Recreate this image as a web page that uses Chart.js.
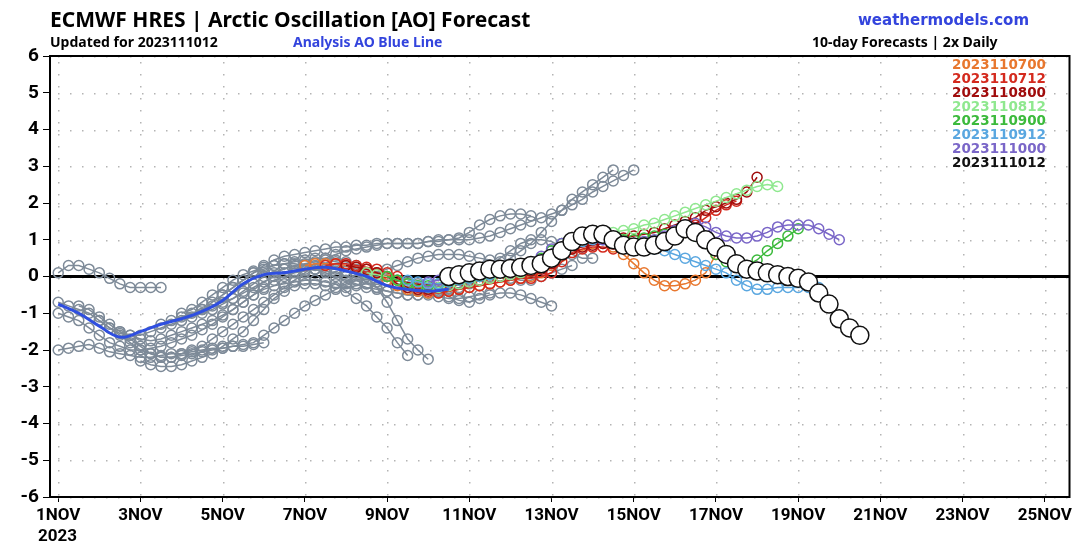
<!DOCTYPE html>
<html>
<head>
<meta charset="utf-8">
<script src="https://cdn.jsdelivr.net/npm/chart.js@4.4.0/dist/chart.umd.min.js"></script>
<style>
  body { margin: 0; background: #fff; }
  #wrap { position: relative; width: 1080px; height: 543px; }
  canvas { position: absolute; left: 0; top: 0; }
  .t { position: absolute; font-family: "Noto Sans", sans-serif; font-weight: bold; white-space: nowrap; }
  #legend { position: absolute; right: 34px; top: 57px; font-family: "DejaVu Sans", sans-serif; font-weight: bold; font-size: 13.5px; line-height: 14px; text-align: right; }
</style>
</head>
<body>
<div id="wrap">
  <canvas id="chart1" width="1080" height="543"></canvas>
  <div class="t" style="left:50px;top:5px;font-size:21px;">ECMWF HRES | Arctic Oscillation [AO] Forecast</div>
  <div class="t" style="left:50px;top:32px;font-size:14px;">Updated for 2023111012</div>
  <div class="t" style="left:293px;top:32px;font-size:14px;color:#3344dd;">Analysis AO Blue Line</div>
  <div class="t" style="left:858px;top:11px;font-size:15px;color:#3344dd;font-family:'DejaVu Sans';">weathermodels.com</div>
  <div class="t" style="left:812px;top:32px;font-size:14px;">10-day Forecasts | 2x Daily</div>
  <div id="legend"></div>
  <div class="t" style="left:38px;top:525px;font-size:17px;font-family:Roboto;">2023</div>
</div>
<script>
// x is in days: 1 = 1 Nov 00z, points every 6 hours
const step = 0.25;
const tickDays = [1, 3, 5, 7, 9, 11, 13, 15, 17, 19, 21, 23, 25];
const yTicks = [-6, -5, -4, -3, -2, -1, 0, 1, 2, 3, 4, 5, 6];

const analysisDays = [1, 1.5, 2, 2.5, 3, 3.5, 4, 4.5, 5, 5.5, 6, 6.5, 7, 7.5, 8, 8.5, 9, 9.5, 10, 10.5];
const analysisAO = [-0.75, -1.0, -1.35, -1.65, -1.5, -1.3, -1.15, -0.95, -0.65, -0.2, 0.05, 0.1, 0.2, 0.25, 0.15, 0.0, -0.25, -0.35, -0.4, -0.35];

const runNames = ['2023110700', '2023110712', '2023110800', '2023110812', '2023110900', '2023110912', '2023111000', '2023111012'];
const runColors = ['#e8772e', '#d42a1e', '#a00c0c', '#8fe88f', '#3cba3c', '#5aa7e0', '#7a66c8', '#111111'];
const runStarts = [7, 7.5, 8, 8.5, 9, 9.5, 10, 10.5];
const runValues = [
  [0.3,0.35,0.35,0.35,0.3,0.25,0.2,0.1,-0.1,-0.25,-0.35,-0.4,-0.45,-0.45,-0.4,-0.35,-0.3,-0.25,-0.2,-0.15,-0.1,-0.05,0.0,0.1,0.3,0.55,0.75,0.85,0.9,0.9,0.8,0.6,0.35,0.1,-0.1,-0.25,-0.25,-0.2,-0.1,0.1,0.6],
  [0.3,0.35,0.35,0.3,0.25,0.2,0.1,0.0,-0.2,-0.3,-0.4,-0.45,-0.4,-0.35,-0.3,-0.25,-0.2,-0.15,-0.1,-0.05,-0.05,0.0,0.1,0.4,0.65,0.75,0.8,0.8,0.75,0.8,0.9,0.85,0.9,1.0,1.1,1.2,1.4,1.6,1.8,1.95,2.05],
  [0.3,0.25,0.2,0.1,0.0,-0.2,-0.3,-0.35,-0.35,-0.3,-0.25,-0.2,-0.15,-0.1,-0.05,0.0,0.05,0.1,0.15,0.2,0.35,0.6,0.75,0.8,0.85,0.9,1.0,1.05,1.1,1.15,1.2,1.3,1.4,1.5,1.6,1.8,1.9,2.0,2.1,2.3,2.7],
  [0.1,0.05,0.0,-0.1,-0.2,-0.25,-0.3,-0.3,-0.25,-0.2,-0.15,-0.1,-0.05,0.0,0.05,0.1,0.2,0.3,0.5,0.7,0.9,1.0,1.1,1.15,1.2,1.25,1.3,1.4,1.45,1.55,1.65,1.75,1.85,1.95,2.05,2.15,2.25,2.35,2.45,2.5,2.45],
  [0.0,-0.1,-0.2,-0.25,-0.25,-0.2,-0.15,-0.1,-0.05,0.0,0.05,0.1,0.15,0.2,0.3,0.5,0.7,0.9,1.0,1.05,1.1,1.1,1.05,1.0,1.0,1.05,1.1,1.15,1.2,1.2,1.1,0.9,0.6,0.4,0.25,0.3,0.45,0.7,0.9,1.1,1.3],
  [-0.1,-0.15,-0.2,-0.2,-0.15,-0.1,-0.05,0.0,0.05,0.1,0.15,0.2,0.25,0.35,0.5,0.7,0.85,0.95,1.0,1.0,0.95,0.9,0.85,0.8,0.75,0.7,0.6,0.5,0.4,0.3,0.2,0.1,-0.1,-0.25,-0.35,-0.35,-0.3,-0.3,-0.3,-0.3,-0.3],
  [-0.15,-0.1,-0.05,0.0,0.05,0.1,0.15,0.2,0.25,0.3,0.4,0.55,0.75,0.9,1.0,1.05,1.05,1.0,0.95,0.9,0.9,0.95,1.0,1.1,1.25,1.4,1.45,1.35,1.2,1.1,1.05,1.05,1.1,1.2,1.35,1.4,1.4,1.4,1.3,1.15,1.0],
  [0.0,0.05,0.1,0.15,0.2,0.2,0.22,0.25,0.3,0.35,0.5,0.7,0.95,1.1,1.15,1.15,1.0,0.85,0.8,0.8,0.85,0.95,1.1,1.3,1.2,1.0,0.8,0.6,0.35,0.2,0.15,0.1,0.05,0.0,-0.05,-0.15,-0.45,-0.75,-1.15,-1.4,-1.6]
];

// older runs (grey), starting day of first visible point
const greyStarts = [1, 1, 1, 1, 1.5, 2, 2.5, 3, 3.5, 4, 4.5, 5];
const greyValues = [
  [-2.0,-1.95,-1.9,-1.85,-1.95,-2.05,-2.1,-2.15,-2.2,-2.2,-2.15,-2.1,-2.1,-2.05,-2.0,-1.95,-1.95,-1.9,-1.9,-1.85,-1.8],
  [0.1,0.3,0.3,0.2,0.1,-0.05,-0.2,-0.3,-0.3,-0.3,-0.3],
  [-0.7,-0.8,-0.9,-1.0,-1.2,-1.4,-1.55,-1.6,-1.6,-1.5,-1.4,-1.3,-1.2,-1.1,-1.0,-0.9,-0.75,-0.6,-0.4,-0.2,0.0,0.1,0.2,0.3,0.35,0.4,0.45,0.4,0.35,0.2,0.0,-0.3,-0.7,-1.2,-1.7,-2.0,-2.25],
  [-1.0,-1.1,-1.2,-1.4,-1.6,-1.8,-1.9,-2.0,-2.0,-1.95,-1.9,-1.8,-1.7,-1.6,-1.45,-1.3,-1.1,-0.9,-0.7,-0.5,-0.35,-0.25,-0.2,-0.15,-0.1,-0.1,-0.15,-0.2,-0.4,-0.6,-0.8,-1.1,-1.4,-1.8,-2.15],
  [-0.8,-0.9,-1.1,-1.3,-1.5,-1.6,-1.7,-1.75,-1.7,-1.6,-1.5,-1.4,-1.3,-1.2,-1.05,-0.9,-0.7,-0.5,-0.3,-0.1,0.0,0.1,0.15,0.2,0.2,0.2,0.15,0.1,0.05,0.0,-0.1,-0.2,-0.3,-0.4,-0.5,-0.55,-0.6,-0.6,-0.55,-0.5,-0.45],
  [-1.2,-1.4,-1.6,-1.8,-2.0,-2.1,-2.2,-2.2,-2.15,-2.1,-2.05,-2.0,-1.95,-1.9,-1.85,-1.8,-1.6,-1.4,-1.2,-1.0,-0.8,-0.65,-0.5,-0.35,-0.2,-0.1,0.0,0.1,0.2,0.3,0.4,0.5,0.55,0.6,0.6,0.6,0.55,0.5,0.45,0.4,0.35],
  [-1.5,-1.7,-1.9,-2.1,-2.2,-2.2,-2.1,-2.0,-1.9,-1.7,-1.5,-1.3,-1.1,-0.9,-0.7,-0.5,-0.3,-0.1,0.1,0.3,0.5,0.6,0.7,0.75,0.8,0.85,0.9,0.9,0.9,0.9,0.95,1.0,1.0,1.05,1.2,1.4,1.55,1.65,1.7,1.7,1.65],
  [-2.3,-2.4,-2.45,-2.45,-2.4,-2.3,-2.2,-2.1,-1.9,-1.7,-1.5,-1.2,-0.9,-0.6,-0.4,-0.25,-0.2,-0.2,-0.25,-0.3,-0.3,-0.25,-0.2,-0.15,-0.1,-0.1,-0.15,-0.2,-0.3,-0.4,-0.55,-0.65,-0.7,-0.6,-0.5,-0.45,-0.45,-0.5,-0.6,-0.7,-0.8],
  [-1.3,-1.2,-1.1,-1.0,-0.9,-0.8,-0.7,-0.6,-0.45,-0.3,-0.15,0.0,0.1,0.15,0.2,0.2,0.15,0.1,0.0,-0.1,-0.2,-0.3,-0.4,-0.45,-0.5,-0.5,-0.45,-0.4,-0.35,-0.3,-0.2,-0.1,0.0,0.0,-0.05,-0.1,-0.1,0.0,0.1,0.2,0.3],
  [-1.0,-0.9,-0.7,-0.5,-0.3,-0.1,0.05,0.15,0.25,0.3,0.35,0.35,0.3,0.2,0.1,0.0,-0.1,-0.2,-0.3,-0.35,-0.4,-0.45,-0.5,-0.5,-0.45,-0.35,-0.2,-0.05,0.1,0.2,0.3,0.5,0.7,0.9,1.0,1.0,0.95,0.8,0.6,0.5,0.5],
  [-0.9,-0.7,-0.5,-0.3,-0.1,0.1,0.2,0.3,0.35,0.4,0.45,0.5,0.5,0.45,0.4,0.3,0.2,0.1,0.0,-0.1,-0.2,-0.25,-0.3,-0.3,-0.25,-0.2,-0.1,0.0,0.15,0.3,0.5,0.7,0.9,1.2,1.5,1.8,2.1,2.3,2.5,2.7,2.9],
  [-0.5,-0.3,-0.1,0.1,0.3,0.45,0.55,0.6,0.65,0.7,0.75,0.8,0.8,0.85,0.85,0.9,0.9,0.9,0.9,0.9,0.95,0.95,1.0,1.0,1.0,1.05,1.1,1.2,1.3,1.4,1.5,1.6,1.7,1.8,1.95,2.1,2.3,2.45,2.6,2.75,2.9]
];

const toPoints = (start, vals) => vals.map((v, i) => ({ x: start + i * step, y: v }));

document.getElementById('legend').innerHTML = runNames
  .map((n, i) => '<div style="color:' + runColors[i] + '">' + n + '</div>').join('');

(function() {
    const chart = document.getElementById('chart1');
    const datasets = [];

    greyValues.forEach((vals, i) => {
        datasets.push({
            data: toPoints(greyStarts[i], vals),
            borderColor: 'rgb(125,138,152)',
            backgroundColor: 'rgba(255,255,255,0)',
            borderWidth: 1.5,
            pointRadius: 5,
            pointBorderWidth: 1.5,
            order: 30
        });
    });

    runValues.forEach((vals, i) => {
        const last = i === runValues.length - 1;
        datasets.push({
            data: toPoints(runStarts[i], vals),
            borderColor: runColors[i],
            backgroundColor: last ? '#ffffff' : 'rgba(255,255,255,0)',
            borderWidth: 1.5,
            pointRadius: last ? 9 : 5,
            pointBorderWidth: 1.5,
            order: last ? 2 : 20 - i
        });
    });

    datasets.push({
        data: analysisDays.map((d, i) => ({ x: d, y: analysisAO[i] })),
        borderColor: '#2f4fe0',
        borderWidth: 3,
        pointRadius: 0,
        tension: 0.4,
        order: 5
    });

    const frame = {
        id: 'frame',
        beforeDatasetsDraw(c) {
            const a = c.chartArea, ctx = c.ctx;
            const xs = c.scales.x, ys = c.scales.y;
            ctx.save();
            // dotted grid
            ctx.fillStyle = '#b4b4b4';
            tickDays.forEach(d => {
                const px = Math.round(xs.getPixelForValue(d));
                for (let py = a.top + 6; py < a.bottom; py += 12) ctx.fillRect(px, py, 1.5, 1.5);
            });
            yTicks.forEach(v => {
                const py = Math.round(ys.getPixelForValue(v));
                for (let px = a.left + 8; px < a.right; px += 12) ctx.fillRect(px, py, 1.5, 1.5);
            });
            const y0 = ys.getPixelForValue(0);
            ctx.strokeStyle = '#000';
            ctx.lineWidth = 3;
            ctx.beginPath();
            ctx.moveTo(a.left, y0);
            ctx.lineTo(a.right, y0);
            ctx.stroke();
            ctx.restore();
        },
        afterDraw(c) {
            const a = c.chartArea, ctx = c.ctx;
            ctx.save();
            ctx.strokeStyle = '#000';
            ctx.lineWidth = 2;
            ctx.strokeRect(a.left, a.top, a.right - a.left, a.bottom - a.top);
            ctx.restore();
        }
    };

    const config = {
        type: 'line',
        data: { datasets: datasets },
        options: {
            responsive: false,
            animation: false,
            clip: 0,
            layout: { padding: { top: 56, right: 10, left: 0, bottom: 0 } },
            plugins: { legend: { display: false }, tooltip: { enabled: false } },
            scales: {
                x: {
                    type: 'linear',
                    min: 0.8,
                    max: 25.6,
                    afterBuildTicks: (s) => { s.ticks = tickDays.map(v => ({ value: v })); },
                    afterFit: (s) => { s.height = 46; },
                    ticks: {
                        color: '#000',
                        font: { family: 'Roboto', weight: 'bold', size: 17 },
                        maxRotation: 0,
                        autoSkip: false,
                        padding: 4,
                        callback: (v) => v + 'NOV'
                    },
                    grid: { drawOnChartArea: false, tickLength: 5, tickColor: '#000' },
                    border: { display: false }
                },
                y: {
                    min: -6,
                    max: 6,
                    afterBuildTicks: (s) => { s.ticks = yTicks.map(v => ({ value: v })); },
                    afterFit: (s) => { s.width = 50; },
                    ticks: {
                        color: '#000',
                        font: { family: 'Roboto', weight: 'bold', size: 19 },
                        padding: 4
                    },
                    grid: { drawOnChartArea: false, tickLength: 7, tickColor: '#000' },
                    border: { display: false }
                }
            }
        },
        plugins: [frame]
    };

    new Chart(chart, config);
})();
</script>
</body>
</html>
